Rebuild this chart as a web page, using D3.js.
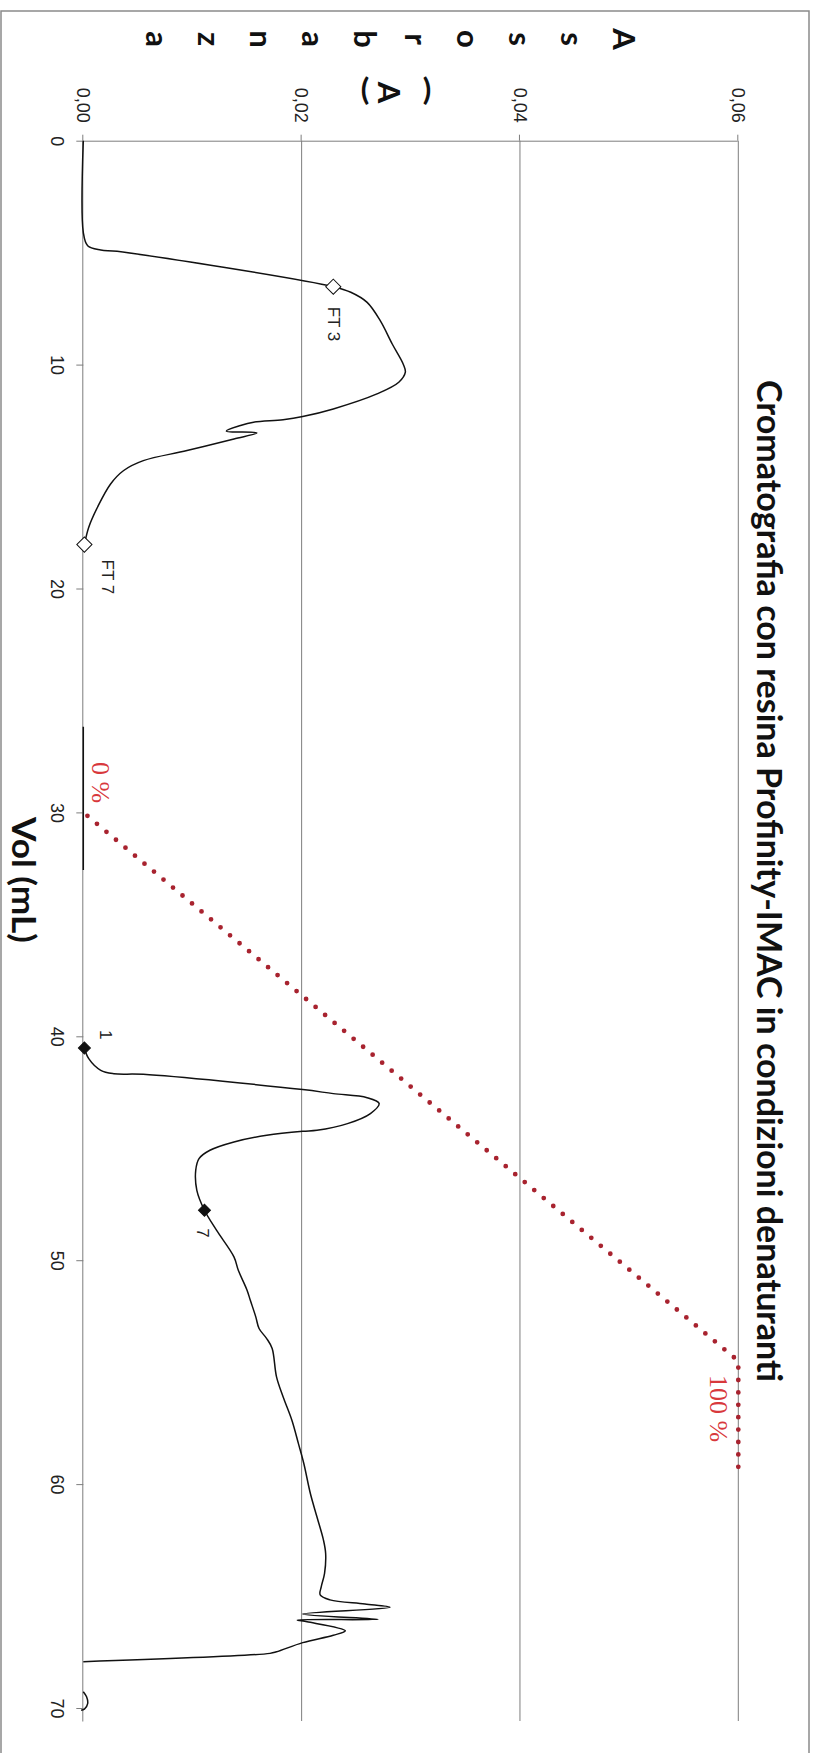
<!DOCTYPE html>
<html>
<head>
<meta charset="utf-8">
<script src="https://cdn.jsdelivr.net/npm/d3@7"></script>
<style>
  body { margin: 0; background: #fff; }
  svg { display: block; }
  .axis text { font-family: "Liberation Sans", Arial, sans-serif; font-size: 18px; fill: #222; }
  .axis path, .axis line { stroke: #7d7d7d; stroke-width: 1; }
  .grid { stroke: #7d7d7d; stroke-width: 1; }
  .bold { font-family: Lato, "Open Sans", sans-serif; font-weight: 700; fill: #111; }
</style>
</head>
<body>
<svg id="chart"></svg>
<script>
// chromatogram: elution volume (mL) and absorbance
// null = gap in the trace
var vol = [0, 4.09, 4.69, 4.88, 4.94, 6.52, 6.77, 7.22, 8.04, 9.08, 9.97, 10.34, 10.79, 11.31,
  11.98, 12.32, 12.46, 12.57, 12.72, 12.97, 13.05, 13.32, 13.84, 14.29, 14.73, 15.33, 16.37,
  17.26, 18.04, null, 26.17, 32.57, null,
  40.52, 41.0, 41.52, 41.67, 41.7, 42.38, 42.56, 42.74, 43.0, 43.45, 43.9, 44.2, 44.24, 44.42,
  44.72, 45.09, 45.46, 45.98, 46.88, 47.77, 48.66, 49.85, 50.45, 51.34, 51.79, 52.53, 53.05,
  53.5, 53.94, 55.21, 56.1, 57.14, 58.18, 59.08, 60.42, 61.46, 62.5, 63.1, 63.99, 64.58, 64.95,
  65.17, 65.35, 65.5, 65.8, 66.04, 66.07, 66.15, 66.55, 66.75, 67.08, 67.49, 67.56, 67.93, null,
  69.27, 69.5, 69.8, 70.05, 70.1];
var absorb = [0, 0, 0.0004, 0.0016, 0.0031, 0.0229, 0.0245, 0.0260, 0.0272, 0.0283, 0.0293, 0.0295, 0.0289, 0.0269,
  0.0229, 0.0201, 0.0183, 0.0156, 0.0144, 0.0131, 0.0159, 0.0138, 0.0095, 0.0055, 0.0037, 0.0025, 0.0013,
  0.0005, 0.0001, null, 0, 0, null,
  0.0001, 0.0005, 0.0016, 0.0028, 0.0055, 0.0201, 0.0229, 0.0260, 0.0271, 0.0263, 0.0242, 0.0214, 0.0201, 0.0168,
  0.0138, 0.0116, 0.0106, 0.0103, 0.0104, 0.0111, 0.0122, 0.0138, 0.0142, 0.0150, 0.0153, 0.0158, 0.0161,
  0.0168, 0.0173, 0.0177, 0.0183, 0.0191, 0.0197, 0.0202, 0.0208, 0.0214, 0.0220, 0.0222, 0.0221, 0.0218, 0.0217,
  0.0226, 0.0258, 0.0281, 0.0201, 0.0270, 0.0196, 0.0205, 0.0240, 0.0229, 0.0201, 0.0177, 0.0171, 0, null,
  0, 0.0003, 0.0004, 0.0001, -0.0002];

// imidazole gradient (%)
var gradVol = [30, 54.5, 59.7];
var gradPct = [0, 100, 100];
var gradLabels = ["0 %", "100 %"];

// fraction markers
var markVol = [6.52, 18.04, 40.52, 47.77];
var markAbs = [0.0229, 0.0001, 0.0001, 0.0111];
var markText = ["FT 3", "FT 7", "1", "7"];
var markFilled = [false, false, true, true];

var volTicks = [0, 10, 20, 30, 40, 50, 60, 70];
var absTicks = [0, 0.02, 0.04, 0.06];
var title = "Cromatografia con resina Profinity-IMAC in condizioni denaturanti";
var xTitle = "Vol (mL)";
var yTitleCol1 = "Assorbanza".split("");
var yTitleCol2 = ["(", "A", ")"];

var W = 816, H = 1753;
var svg = d3.select("#chart").attr("width", W).attr("height", H);

// the whole chart is drawn landscape and turned a quarter clockwise
var g = svg.append("g").attr("transform", "translate(" + W + ",0) rotate(90)");

g.append("rect").attr("x", 11).attr("y", 7).attr("width", 1770).attr("height", 808)
  .attr("fill", "#fff").attr("stroke", "#8a8a8a").attr("stroke-width", 1.5);

var x = d3.scaleLinear().domain([0, 70.58]).range([140.7, 1721]);
var y = d3.scaleLinear().domain([0, 0.06]).range([732.7, 77.7]);
var yPct = d3.scaleLinear().domain([0, 100]).range([732.7, 77.7]);

var absFmt = d3.formatLocale({decimal: ",", thousands: ".", grouping: [3], currency: ["", ""]}).format(".2f");

g.selectAll("line.grid").data(absTicks.slice(1)).enter().append("line")
  .attr("class", "grid")
  .attr("x1", x(0)).attr("x2", x.range()[1])
  .attr("y1", function(d) { return y(d); }).attr("y2", function(d) { return y(d); });

g.append("g").attr("class", "axis")
  .attr("transform", "translate(0," + y(0) + ")")
  .call(d3.axisBottom(x).tickValues(volTicks).tickSize(7).tickSizeOuter(0).tickPadding(13));

g.append("g").attr("class", "axis")
  .attr("transform", "translate(" + x(0) + ",0)")
  .call(d3.axisLeft(y).tickValues(absTicks).tickFormat(absFmt).tickSize(6).tickSizeOuter(0).tickPadding(12));

// gradient line
var gradLine = d3.line()
  .x(function(d, i) { return x(gradVol[i]); })
  .y(function(d, i) { return yPct(gradPct[i]); });
g.append("path").attr("d", gradLine(gradVol))
  .attr("fill", "none").attr("stroke", "#a8232f").attr("stroke-width", 4.8)
  .attr("stroke-linecap", "round").attr("stroke-dasharray", "0 12.4").attr("stroke-dashoffset", 7);

var gradLabelPos = [[762, 724], [1375, 106]];
g.selectAll("text.grad").data(gradLabelPos).enter().append("text")
  .attr("class", "grad")
  .attr("x", function(d) { return d[0]; })
  .attr("y", function(d) { return d[1]; })
  .attr("font-family", "'Liberation Serif', 'Times New Roman', serif")
  .attr("font-size", 26).attr("fill", "#d8383c")
  .text(function(d, i) { return gradLabels[i]; });

// chromatogram
var line = d3.line()
  .defined(function(d, i) { return vol[i] !== null; })
  .x(function(d, i) { return x(vol[i]); })
  .y(function(d, i) { return y(absorb[i]); })
  .curve(d3.curveCatmullRom.alpha(0.5));
g.append("path").attr("d", line(vol))
  .attr("fill", "none").attr("stroke", "#111").attr("stroke-width", 1.5);

// markers and labels
var sym = d3.symbol().type(d3.symbolSquare);
g.selectAll("path.mark").data(markVol).enter().append("path")
  .attr("class", "mark")
  .attr("d", function(d, i) { return sym.size(markFilled[i] ? 72 : 115)(); })
  .attr("transform", function(d, i) { return "translate(" + x(d) + "," + y(markAbs[i]) + ") rotate(45)"; })
  .attr("fill", function(d, i) { return markFilled[i] ? "#111" : "#fff"; })
  .attr("stroke", "#111").attr("stroke-width", 1);

var labelOff = [[20, 5], [15, -18], [-18, -16], [18, 7]];
g.selectAll("text.mark").data(markVol).enter().append("text")
  .attr("class", "mark")
  .attr("x", function(d, i) { return x(d) + labelOff[i][0]; })
  .attr("y", function(d, i) { return y(markAbs[i]) + labelOff[i][1]; })
  .attr("font-family", "'Liberation Sans', Arial, sans-serif")
  .attr("font-size", 17).attr("fill", "#222")
  .text(function(d, i) { return markText[i]; });

// titles
g.append("text").attr("class", "bold")
  .attr("x", 881).attr("y", 59).attr("text-anchor", "middle")
  .attr("font-size", 34).attr("textLength", 1002).attr("lengthAdjust", "spacingAndGlyphs")
  .text(title);

g.append("text").attr("class", "bold")
  .attr("x", 880).attr("y", 804).attr("text-anchor", "middle")
  .attr("font-size", 32).attr("textLength", 126).attr("lengthAdjust", "spacingAndGlyphs")
  .text(xTitle);

// stacked axis title, one character per line
g.selectAll("text.col1").data(yTitleCol1).enter().append("text")
  .attr("class", "bold col1")
  .attr("x", 39).attr("y", function(d, i) { return 203 + i * 51.9; })
  .attr("text-anchor", "middle").attr("font-size", 31)
  .text(function(d) { return d; });

var col2Pos = [389, 438, 451];
g.selectAll("text.col2").data(yTitleCol2).enter().append("text")
  .attr("class", "bold col2")
  .attr("text-anchor", "middle").attr("font-size", 31)
  .attr("dominant-baseline", function(d, i) { return i === 1 ? "auto" : "central"; })
  .attr("transform", function(d, i) {
    return "translate(92.5," + col2Pos[i] + ")" + (i === 1 ? "" : " rotate(90)");
  })
  .text(function(d) { return d; });
</script>
</body>
</html>
